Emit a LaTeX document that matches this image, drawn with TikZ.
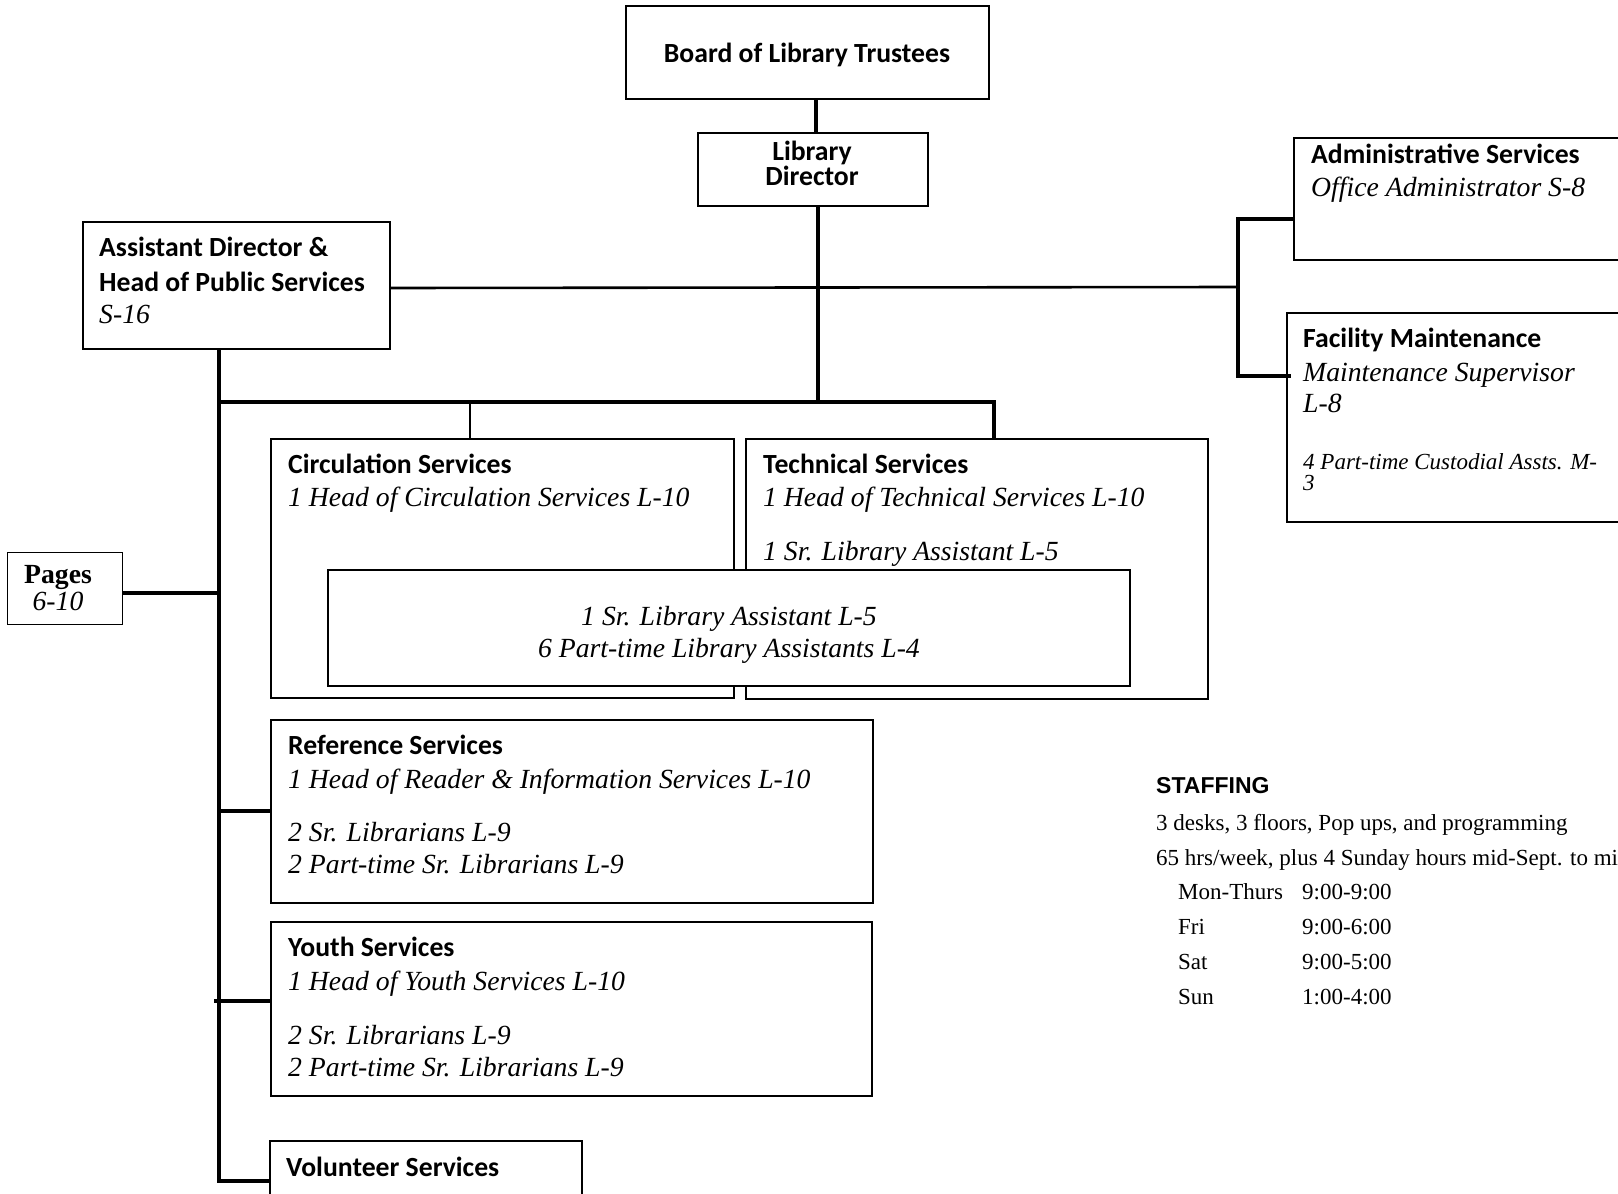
\documentclass[tikz,border=0pt]{standalone}
\usepackage{fontspec}
\setmainfont{Liberation Serif}
\newfontfamily\hdfam{Carlito}
\newfontfamily\arialfam{Liberation Sans}
\begin{document}
\begin{tikzpicture}[x=1pt,y=-1pt,
  box/.style={draw, line width=1.7pt, fill=white, inner sep=0pt, outer sep=0pt},
  conn/.style={line width=3.2pt},
  thinconn/.style={line width=2.6pt},
  hd/.style={font=\hdfam\bfseries\fontsize{27.7}{30}\selectfont, inner sep=0pt, anchor=base west},
  it/.style={font=\itshape\fontsize{27.7}{30}\selectfont, inner sep=0pt, anchor=base west},
  itsmall/.style={font=\itshape\fontsize{23}{21}\selectfont, inner sep=0pt, align=left},
  tmbold/.style={font=\bfseries\fontsize{27.7}{30}\selectfont, inner sep=0pt, anchor=base},
  sthead/.style={font=\arialfam\bfseries\fontsize{23}{25}\selectfont, inner sep=0pt, anchor=base west},
  sttext/.style={font=\fontsize{23}{25}\selectfont, inner sep=0pt, anchor=base west}]
\useasboundingbox (0,0) rectangle (1618,1194);
\fill[white] (0,0) rectangle (1618,1194);
\clip (0,0) rectangle (1618,1194);

% boxes
\node[box, minimum width=363pt, minimum height=93pt] (board) at (807.5,52.5) {};
\node[box, minimum width=230pt, minimum height=73pt] (director) at (813,169.5) {};
\node[box, minimum width=307pt, minimum height=127pt] (ad) at (236.5,285.5) {};
\node[box, minimum width=346pt, minimum height=122pt] (admin) at (1467,199) {};
\node[box, minimum width=353pt, minimum height=209pt] (fac) at (1463.5,417.5) {};
\node[box, minimum width=115pt, minimum height=72pt] (pages) at (65,588.5) {};
\node[box, minimum width=463pt, minimum height=259pt] (circ) at (502.5,568.5) {};
\node[box, minimum width=462pt, minimum height=260pt] (tech) at (977,569) {};
\node[box, minimum width=802pt, minimum height=116pt] (inner) at (729,628) {};
\node[box, minimum width=602pt, minimum height=183pt] (ref) at (572,811.5) {};
\node[box, minimum width=601pt, minimum height=174pt] (youth) at (571.5,1009) {};
\node[box, minimum width=312pt, minimum height=98pt] (vol) at (426,1190) {};

% junction coordinates
\coordinate (jL) at (219,402);
\coordinate (jC) at (470,402);
\coordinate (jM) at (818,402);
\coordinate (jR) at (994,402);
\coordinate (bM) at (1238,287);
\coordinate (bT) at (1238,219);
\coordinate (bB) at (1238,376);
\coordinate (jP) at (219,593);
\coordinate (jRef) at (219,811);
\coordinate (jY) at (214,1001);
\coordinate (vbot) at (219,1181);

% connectors
\draw[conn] ([xshift=8.5pt]board.south) -- ([xshift=3pt]director.north);
\draw[conn] ([xshift=5pt]director.south) -- (jM);
\draw[thinconn] ([yshift=-2.5pt]ad.east) -- (bM);
\draw[conn, line join=miter] (admin.west |- bT) -- (bT) -- (bB) -- ([xshift=4pt]fac.west |- bB);
\draw[conn, line join=miter] (ad.south -| jL) -- (vbot) -- (vol.west |- vbot);
\draw[conn, line join=miter] (jL) -- (jR) -- (tech.north -| jR);
\draw[thinconn] (jC) -- (circ.north -| jC);
\draw[conn] (pages.east |- jP) -- (jP);
\draw[conn] (jRef) -- (ref.west |- jRef);
\draw[conn] (jY) -- (youth.west |- jY);

% texts
\node[hd, anchor=base] (boardT) at (807,62) {Board of Library Trustees};
\node[font=\hdfam\bfseries\fontsize{27.7}{21.5}\selectfont, inner sep=0pt, align=center, anchor=base] (dirT) at (812,185) {Library\\Director};

\node[hd] (adA) at (99,256) {Assistant Director \&};
\node[hd] (adB) at (99,291) {Head of Public Services};
\node[it] (adC) at (99,323) {S-16};

\node[hd] (adminA) at (1311,163) {Administrative Services};
\node[it] (adminB) at (1311,196) {Office Administrator S-8};

\node[hd] (facA) at (1303,347) {Facility Maintenance};
\node[it] (facB) at (1303,381) {Maintenance Supervisor};
\node[it] (facC) at (1303,412) {L-8};
\node[itsmall, anchor=base west] (facD) at (1303,490) {4 Part-time Custodial Assts. M-\\3};

\node[tmbold] (pagesA) at (58,583) {Pages};
\node[it, anchor=base] (pagesB) at (58,610) {6-10};

\node[hd] (circA) at (288,473) {Circulation Services};
\node[it] (circB) at (288,506) {1 Head of Circulation Services L-10};

\node[hd] (techA) at (763,473) {Technical Services};
\node[it] (techB) at (763,506) {1 Head of Technical Services L-10};
\node[it] (techC) at (763,560) {1 Sr. Library Assistant L-5};

\node[it, anchor=base] (innerA) at (729,625) {1 Sr. Library Assistant L-5};
\node[it, anchor=base] (innerB) at (729,657) {6 Part-time Library Assistants L-4};

\node[hd] (refA) at (288,754) {Reference Services};
\node[it] (refB) at (288,788) {1 Head of Reader \& Information Services L-10};
\node[it] (refC) at (288,841) {2 Sr. Librarians L-9};
\node[it] (refD) at (288,873) {2 Part-time Sr. Librarians L-9};

\node[hd] (youthA) at (288,956) {Youth Services};
\node[it] (youthB) at (288,990) {1 Head of Youth Services L-10};
\node[it] (youthC) at (288,1044) {2 Sr. Librarians L-9};
\node[it] (youthD) at (288,1076) {2 Part-time Sr. Librarians L-9};

\node[hd] (volA) at (286,1176) {Volunteer Services};

% staffing
\node[sthead] (stA) at (1156,793) {STAFFING};
\node[sttext] (stB) at (1156,830) {3 desks, 3 floors, Pop ups, and programming};
\node[sttext] (stC) at (1156,865) {65 hrs/week, plus 4 Sunday hours mid-Sept. to mi};
\node[sttext] (d1) at (1178,899) {Mon-Thurs};
\node[sttext] (h1) at (1302,899) {9:00-9:00};
\node[sttext] (d2) at (1178,934) {Fri};
\node[sttext] (h2) at (1302,934) {9:00-6:00};
\node[sttext] (d3) at (1178,969) {Sat};
\node[sttext] (h3) at (1302,969) {9:00-5:00};
\node[sttext] (d4) at (1178,1004) {Sun};
\node[sttext] (h4) at (1302,1004) {1:00-4:00};
\end{tikzpicture}
\end{document}
